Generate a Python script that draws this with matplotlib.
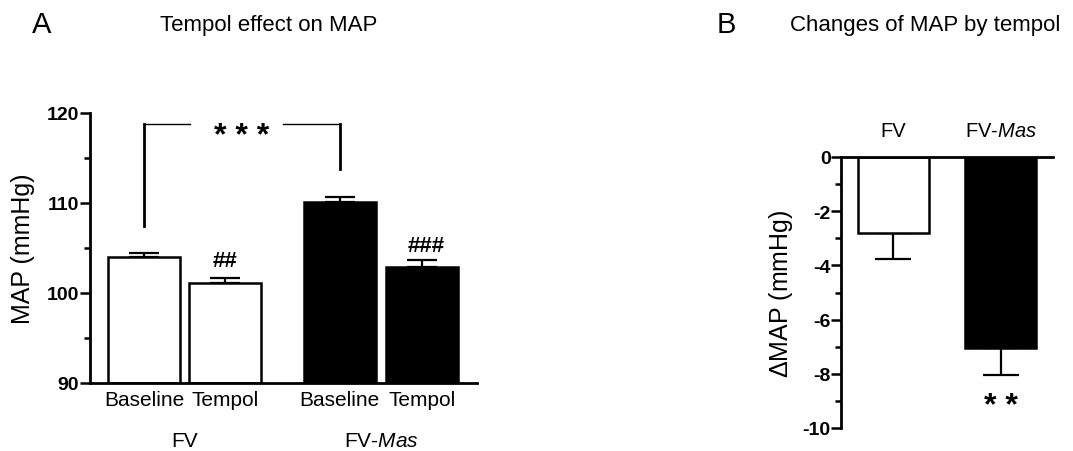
import numpy as np
import matplotlib.pyplot as plt

plt.rcParams['font.family'] = ['Liberation Sans', 'DejaVu Sans']
plt.rcParams['mathtext.fontset'] = 'custom'
plt.rcParams['mathtext.rm'] = 'Liberation Sans'
plt.rcParams['mathtext.it'] = 'Liberation Sans:italic'
plt.rcParams['axes.unicode_minus'] = False

# datos panel A (MAP, mmHg)
grupos = ['FV', r'FV-$\mathit{Mas}$']
condiciones = ['Baseline', 'Tempol', 'Baseline', 'Tempol']
map_media = [104.0, 101.1, 110.1, 102.9]
map_sem = [0.45, 0.57, 0.6, 0.73]
colores_a = ['white', 'white', 'black', 'black']

# datos panel B (cambio de MAP)
grupos_b = ['FV', r'FV-$\mathit{Mas}$']
delta_media = [-2.8, -7.05]
delta_sem = [0.96, 0.98]
colores_b = ['white', 'black']

fig = plt.figure(figsize=(10.73, 4.52), dpi=100)

# ---- panel A ----
ax1 = fig.add_axes([90/1073, 1-384/452, 387/1073, 270/452])
pos = np.array([0, 1.13, 2.72, 3.86])
ax1.errorbar(pos, map_media, yerr=[np.zeros(4), map_sem], fmt='none', ecolor='black',
             elinewidth=1.6, capsize=10.5, capthick=1.6, zorder=1)
ax1.bar(pos, np.array(map_media) - 90, bottom=90, width=1, color=colores_a,
        edgecolor='black', linewidth=1.8, zorder=2)
ax1.set_ylim(90, 120)
ax1.set_xlim(-0.75, 4.625)
ax1.set_yticks([90, 100, 110, 120])
ax1.set_yticks([95, 105, 115], minor=True)
ax1.set_xticks(pos)
ax1.set_xticklabels(condiciones, fontsize=15)
ax1.tick_params(axis='x', length=0, pad=5)
ax1.tick_params(axis='y', which='major', length=7.5, width=1.8, labelsize=14, pad=0.5)
ax1.tick_params(axis='y', which='minor', length=4, width=1.8)
for lab in ax1.get_yticklabels():
    lab.set_fontweight('bold')
for s in ['top', 'right']:
    ax1.spines[s].set_visible(False)
for s in ['left', 'bottom']:
    ax1.spines[s].set_linewidth(2)
ax1.set_ylabel('MAP (mmHg)', fontsize=18)
ax1.yaxis.set_label_coords(-0.142, 0.5)

centros = [pos[:2].mean(), pos[2:].mean()]
for c, g in zip(centros, grupos):
    ax1.text(c, -0.233, g, transform=ax1.get_xaxis_transform(), ha='center',
             va='baseline', fontsize=15)

# corchete de significancia
ax1.plot([pos[0], pos[0]], [107.4, 118.8], color='black', lw=2, clip_on=False)
ax1.plot([pos[2], pos[2]], [113.8, 118.8], color='black', lw=2, clip_on=False)
ax1.plot([pos[0], 0.64], [118.8, 118.8], color='black', lw=1)
ax1.plot([1.93, pos[2]], [118.8, 118.8], color='black', lw=1)
ax1.text((pos[0] + pos[2]) / 2, 116.5, '* * *', ha='center', va='baseline',
         fontsize=23, fontweight='bold')
ax1.text(pos[1], 103.0, '##', ha='center', va='baseline', fontsize=16, fontweight='bold')
ax1.text(pos[3] + 0.06, 104.67, '###', ha='center', va='baseline', fontsize=16, fontweight='bold')

# ---- panel B ----
ax2 = fig.add_axes([841/1073, 1-429/452, 212/1073, 271/452])
pos_b = np.array([0, 1.51])
ax2.errorbar(pos_b, delta_media, yerr=[delta_sem, np.zeros(2)], fmt='none', ecolor='black',
             elinewidth=1.6, capsize=13, capthick=1.6, zorder=1)
ax2.bar(pos_b, delta_media, width=1, color=colores_b, edgecolor='black',
        linewidth=1.8, zorder=2)
ax2.set_ylim(-10, 0)
ax2.set_xlim(-0.74, 2.25)
ax2.set_yticks([0, -2, -4, -6, -8, -10])
ax2.set_yticks([-1, -3, -5, -7, -9], minor=True)
ax2.set_xticks(pos_b)
ax2.set_xticklabels(grupos_b, fontsize=14.5)
ax2.tick_params(axis='x', top=True, bottom=False, labeltop=True, labelbottom=False,
                length=0, pad=12)
ax2.tick_params(axis='y', which='major', length=7, width=1.8, labelsize=14, pad=0.5)
ax2.tick_params(axis='y', which='minor', length=4, width=1.8)
for lab in ax2.get_yticklabels():
    lab.set_fontweight('bold')
for s in ['bottom', 'right']:
    ax2.spines[s].set_visible(False)
for s in ['left', 'top']:
    ax2.spines[s].set_linewidth(2)
ax2.set_ylabel(r'$\Delta$MAP (mmHg)', fontsize=18)
ax2.yaxis.set_label_coords(-0.217, 0.5)
ax2.text(pos_b[1], -9.48, '* *', ha='center', va='baseline', fontsize=23, fontweight='bold')

# titulos
fig.text(32/1073, 1-33/452, 'A', fontsize=21, va='baseline')
fig.text(160/1073, 1-31/452, 'Tempol effect on MAP', fontsize=16, va='baseline')
fig.text(717/1073, 1-33/452, 'B', fontsize=21, va='baseline')
fig.text(790/1073, 1-31/452, 'Changes of MAP by tempol', fontsize=16, va='baseline')

fig.savefig('out.png', dpi=100)
